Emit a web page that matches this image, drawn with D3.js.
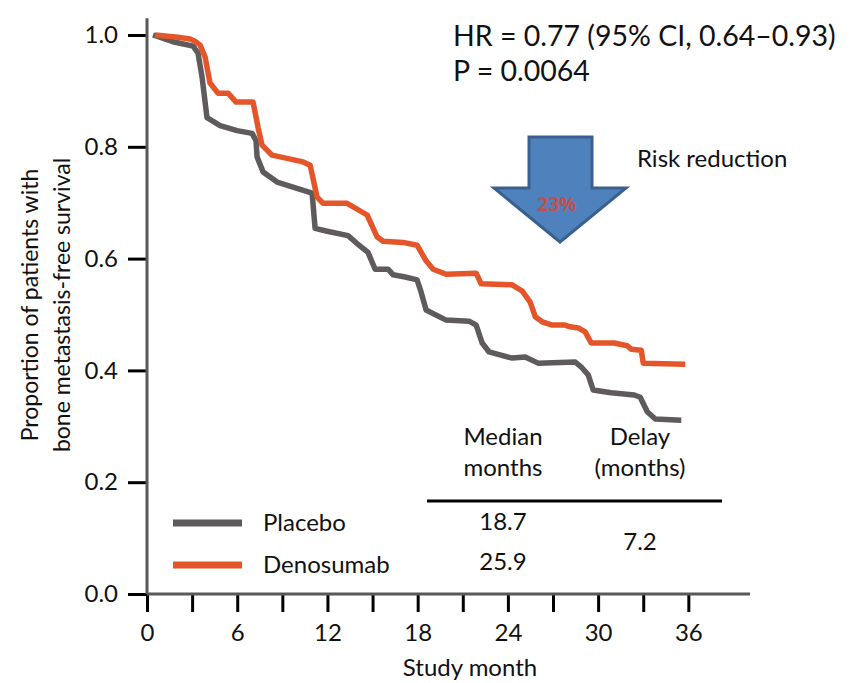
<!DOCTYPE html>
<html>
<head>
<meta charset="utf-8">
<script src="https://cdn.jsdelivr.net/npm/d3@7/dist/d3.min.js"></script>
<style>
  html, body { margin: 0; padding: 0; background: #fff; }
  svg { display: block; font-family: Lato, "Open Sans", sans-serif; }
</style>
</head>
<body>
<svg id="chart" width="852" height="683"></svg>
<script>
// ---- Data ----
const placeboMonths = [0.40, 1.73, 3.06, 3.39, 3.66, 3.99, 4.86, 5.99, 6.99, 7.25, 7.32, 7.72, 8.65, 9.71, 10.98, 11.18, 11.98, 13.37, 13.97, 14.70, 15.17, 16.03, 16.37, 17.17, 17.96, 18.23, 18.56, 19.89, 21.42, 21.89, 22.29, 22.75, 24.28, 25.15, 26.01, 28.48, 28.88, 29.34, 29.67, 30.87, 32.40, 32.80, 33.27, 33.80, 35.53];
const placeboValues = [1.000, 0.988, 0.980, 0.968, 0.925, 0.852, 0.838, 0.829, 0.824, 0.811, 0.782, 0.755, 0.737, 0.728, 0.717, 0.654, 0.649, 0.641, 0.627, 0.611, 0.581, 0.581, 0.571, 0.567, 0.562, 0.540, 0.508, 0.490, 0.488, 0.481, 0.449, 0.433, 0.422, 0.424, 0.413, 0.415, 0.406, 0.392, 0.365, 0.360, 0.356, 0.352, 0.326, 0.313, 0.311];

const denosumabMonths = [0.53, 2.06, 2.86, 3.19, 3.53, 3.86, 4.19, 4.72, 5.39, 5.92, 7.05, 7.39, 7.65, 8.32, 10.38, 10.85, 11.31, 11.71, 13.31, 14.64, 15.30, 15.70, 17.03, 17.96, 18.56, 19.03, 19.89, 21.89, 22.22, 24.28, 24.95, 25.48, 25.82, 26.28, 26.95, 27.81, 28.14, 28.68, 29.14, 29.54, 31.07, 31.94, 32.20, 32.87, 33.00, 35.80];
const denosumabValues = [1.000, 0.996, 0.993, 0.989, 0.982, 0.961, 0.914, 0.896, 0.896, 0.880, 0.880, 0.834, 0.803, 0.785, 0.773, 0.767, 0.710, 0.699, 0.699, 0.678, 0.639, 0.631, 0.629, 0.624, 0.596, 0.581, 0.572, 0.574, 0.555, 0.553, 0.542, 0.522, 0.496, 0.487, 0.481, 0.481, 0.478, 0.476, 0.469, 0.449, 0.449, 0.444, 0.438, 0.436, 0.413, 0.411];

const seriesNames = ["Placebo", "Denosumab"];
const seriesColors = ["#5f5a5b", "#e4562a"];

const xTickValues = [0, 3, 6, 9, 12, 15, 18, 21, 24, 27, 30, 33, 36];
const xTickLabels = ["0", "6", "12", "18", "24", "30", "36"];
const yTickValues = [0, 0.2, 0.4, 0.6, 0.8, 1.0];

const tableHeader1 = ["Median", "months"];
const tableHeader2 = ["Delay", "(months)"];
const medianMonths = ["18.7", "25.9"];
const delayMonths = "7.2";

const hrText = "HR = 0.77 (95% CI, 0.64\u20130.93)";
const pText = "P = 0.0064";
const riskText = "Risk reduction";
const riskValue = "23%";

// ---- Layout ----
const svg = d3.select("#chart");
const x = d3.scaleLinear().domain([0, 40.1]).range([147, 750]);
const y = d3.scaleLinear().domain([0, 1]).range([594, 35]);

const axisGray = "#595959";
const fontSize = 24;

// Y axis
const yAxis = d3.axisLeft(y).tickValues(yTickValues).tickFormat(d3.format(".1f")).tickSize(19).tickPadding(10);
const gy = svg.append("g").attr("transform", `translate(${x(0)},0)`).call(yAxis);
gy.select(".domain").remove();
gy.selectAll(".tick line").attr("stroke", "#000").attr("stroke-width", 3);
gy.selectAll(".tick text").attr("font-size", fontSize).attr("fill", "#111").attr("font-family", "Lato");
svg.append("line").attr("x1", x(0)).attr("x2", x(0)).attr("y1", y(1.03)).attr("y2", y(0))
  .attr("stroke", axisGray).attr("stroke-width", 3);

// X axis
const xAxis = d3.axisBottom(x).tickValues(xTickValues)
  .tickFormat(d => (xTickLabels.includes(String(d)) ? String(d) : "")).tickSize(18).tickPadding(12);
const gx = svg.append("g").attr("transform", `translate(0,${y(0)})`).call(xAxis);
gx.select(".domain").remove();
gx.selectAll(".tick line").attr("stroke", "#000").attr("stroke-width", 3);
gx.selectAll(".tick text").attr("font-size", fontSize).attr("fill", "#111").attr("font-family", "Lato");
svg.append("line").attr("x1", x(0)).attr("x2", x(40.1)).attr("y1", y(0)).attr("y2", y(0))
  .attr("stroke", axisGray).attr("stroke-width", 3);

// Axis titles
svg.append("text").attr("x", 470).attr("y", 676).attr("text-anchor", "middle")
  .attr("font-size", fontSize).attr("fill", "#111").text("Study month");
const yt = svg.append("text").attr("transform", "translate(0,305) rotate(-90)")
  .attr("text-anchor", "middle").attr("font-size", 23).attr("fill", "#111");
yt.append("tspan").attr("x", 0).attr("y", 38).text("Proportion of patients with");
yt.append("tspan").attr("x", 0).attr("y", 70).text("bone metastasis-free survival");

// Curves
const line = d3.line().x(d => x(d[0])).y(d => y(d[1]));
const series = [
  d3.zip(placeboMonths, placeboValues),
  d3.zip(denosumabMonths, denosumabValues)
];
series.forEach((s, i) => {
  svg.append("path").datum(s).attr("d", line)
    .attr("fill", "none").attr("stroke", seriesColors[i]).attr("stroke-width", 5.5)
    .attr("stroke-linejoin", "round");
});

// Legend
seriesNames.forEach((name, i) => {
  const ly = 523 + i * 42;
  svg.append("line").attr("x1", 173).attr("x2", 242).attr("y1", ly).attr("y2", ly)
    .attr("stroke", seriesColors[i]).attr("stroke-width", 7);
  svg.append("text").attr("x", 263).attr("y", ly + 8).attr("font-size", fontSize)
    .attr("fill", "#111").text(name);
});

// Table
const colMedian = 503, colDelay = 640;
tableHeader1.forEach((t, i) => svg.append("text").attr("x", colMedian).attr("y", 445 + i * 31)
  .attr("text-anchor", "middle").attr("font-size", fontSize).attr("fill", "#111").text(t));
tableHeader2.forEach((t, i) => svg.append("text").attr("x", colDelay).attr("y", 445 + i * 31)
  .attr("text-anchor", "middle").attr("font-size", fontSize).attr("fill", "#111").text(t));
svg.append("line").attr("x1", 427).attr("x2", 722).attr("y1", 501).attr("y2", 501)
  .attr("stroke", "#000").attr("stroke-width", 3);
medianMonths.forEach((t, i) => svg.append("text").attr("x", colMedian).attr("y", 530 + i * 40)
  .attr("text-anchor", "middle").attr("font-size", fontSize).attr("fill", "#111").text(t));
svg.append("text").attr("x", colDelay).attr("y", 550).attr("text-anchor", "middle")
  .attr("font-size", fontSize).attr("fill", "#111").text(delayMonths);

// HR and P text
svg.append("text").attr("x", 453).attr("y", 46).attr("font-size", 28.5).attr("fill", "#111").text(hrText);
svg.append("text").attr("x", 453).attr("y", 81).attr("font-size", 28.5).attr("fill", "#111").text(pText);

// Risk reduction arrow
const arrowPts = [[529, 137], [592, 137], [592, 188], [626, 188], [560, 242], [494, 188], [529, 188]];
svg.append("polygon").attr("points", arrowPts.map(p => p.join(",")).join(" "))
  .attr("fill", "#4f81bd").attr("stroke", "#3a6090").attr("stroke-width", 3).attr("stroke-linejoin", "miter");
svg.append("text").attr("x", 557).attr("y", 211).attr("text-anchor", "middle")
  .attr("font-family", "'Open Sans', 'Noto Sans', sans-serif")
  .attr("font-size", 19).attr("font-weight", 700).attr("fill", "#c0504d").text(riskValue);
svg.append("text").attr("x", 637).attr("y", 167).attr("font-size", fontSize).attr("fill", "#111").text(riskText);
</script>
</body>
</html>
